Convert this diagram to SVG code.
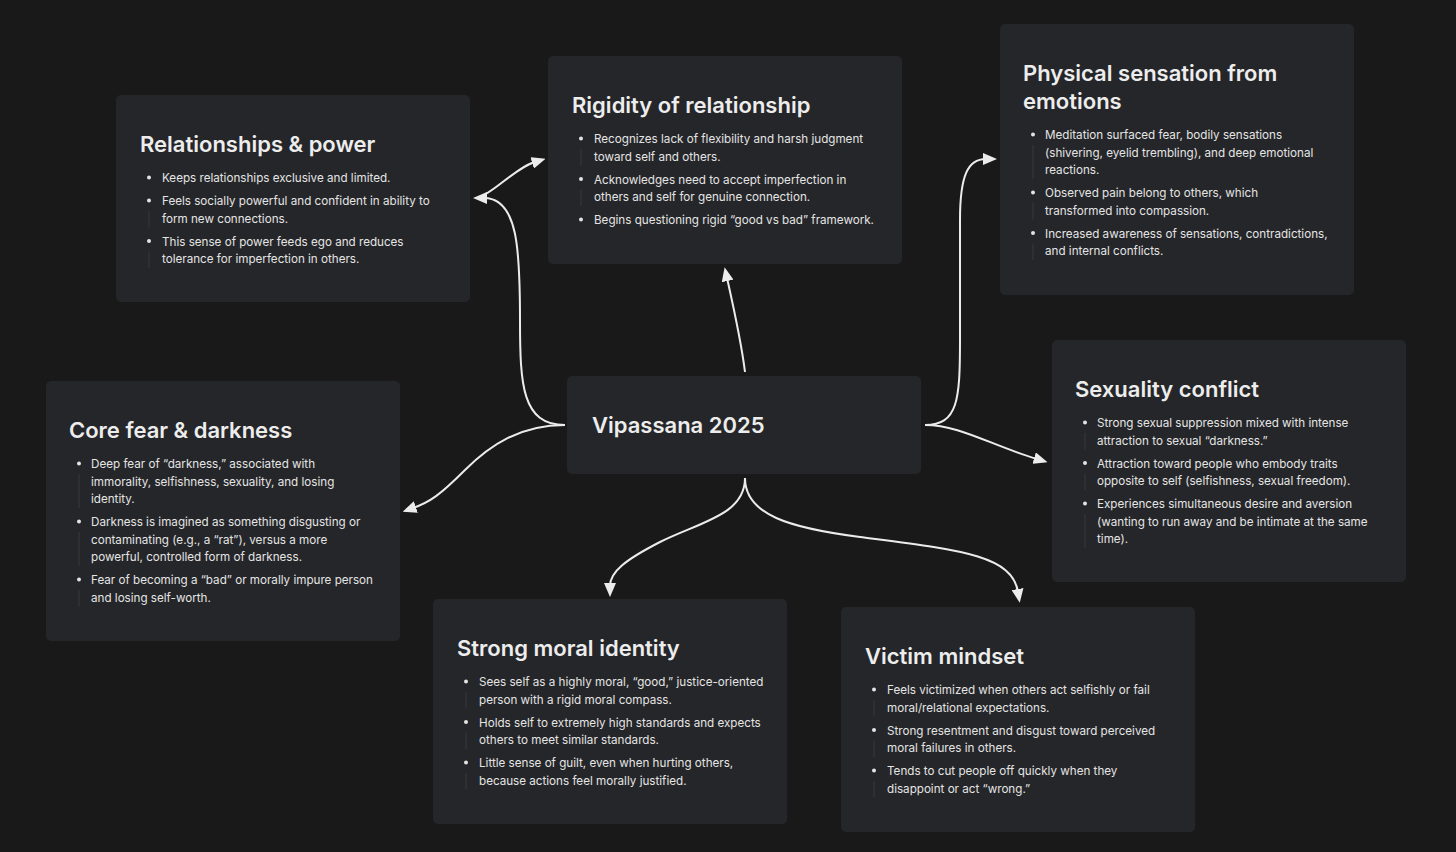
<svg xmlns="http://www.w3.org/2000/svg" width="1456" height="852" viewBox="0 0 1456 852">
<style>
.bg{fill:#19191a}
.box{fill:#252629}
.title{font-family:Inter,"Liberation Sans",sans-serif;font-size:22px;font-weight:600;fill:#ededed}
.body{font-family:Inter,"Liberation Sans",sans-serif;font-size:11.65px;fill:#e4e4e4}
.dot{fill:#e4e4e4}
.guide{stroke:#38393d;stroke-width:1}
.edge{fill:none;stroke:#ececec;stroke-width:2}
</style>
<defs>
<marker id="ah" viewBox="0 0 14 12" markerWidth="14" markerHeight="12" refX="3" refY="6" markerUnits="userSpaceOnUse" orient="auto">
<path d="M0,0 L14,6 L0,12 z" fill="#ececec"/>
</marker>
</defs>
<rect class="bg" x="0" y="0" width="1456" height="852"/>

<g id="connectors">
<path class="edge" marker-end="url(#ah)" d="M745,372 C741,340 733,305 727,278"/>
<path class="edge" marker-end="url(#ah)" d="M565,425 C522,425 520,385 520,320 C520,250 518,198 484,198"/>
<path class="edge" marker-end="url(#ah)" d="M478,198 C495,192 515,168 535,162"/>
<path class="edge" marker-end="url(#ah)" d="M925,425 C958,425 960,400 960,340 L960,220 C960,175 968,159 986,159"/>
<path class="edge" marker-end="url(#ah)" d="M925,425 C960,425 990,445 1037,459"/>
<path class="edge" marker-end="url(#ah)" d="M745,478 C745,515 700,522 660,542 C625,560 610,572 610,586"/>
<path class="edge" marker-end="url(#ah)" d="M745,478 C745,515 790,528 860,537 C960,550 1012,555 1018,592"/>
<path class="edge" marker-end="url(#ah)" d="M565,425 C520,425 490,445 465,470 C440,495 430,502 413,508"/>
</g>

<g id="relationships-power" transform="translate(116,95)">
<rect class="box" x="0" y="0" width="354" height="207" rx="5"/>
<text class="title" x="24" y="57">Relationships &amp; power</text>
<circle class="dot" cx="33" cy="82.5" r="2"/>
<text class="body" x="46" y="87">Keeps relationships exclusive and limited.</text>
<circle class="dot" cx="33" cy="105.5" r="2"/>
<line class="guide" x1="33" y1="116" x2="33" y2="132.5"/>
<text class="body" x="46" y="110">Feels socially powerful and confident in ability to</text>
<text class="body" x="46" y="127.5">form new connections.</text>
<circle class="dot" cx="33" cy="146" r="2"/>
<line class="guide" x1="33" y1="156.5" x2="33" y2="173"/>
<text class="body" x="46" y="150.5">This sense of power feeds ego and reduces</text>
<text class="body" x="46" y="168">tolerance for imperfection in others.</text>
</g>

<g id="rigidity-of-relationship" transform="translate(548,56)">
<rect class="box" x="0" y="0" width="354" height="208" rx="5"/>
<text class="title" x="24" y="57">Rigidity of relationship</text>
<circle class="dot" cx="33" cy="82.5" r="2"/>
<line class="guide" x1="33" y1="93" x2="33" y2="109.5"/>
<text class="body" x="46" y="87">Recognizes lack of flexibility and harsh judgment</text>
<text class="body" x="46" y="104.5">toward self and others.</text>
<circle class="dot" cx="33" cy="123" r="2"/>
<line class="guide" x1="33" y1="133.5" x2="33" y2="150"/>
<text class="body" x="46" y="127.5">Acknowledges need to accept imperfection in</text>
<text class="body" x="46" y="145">others and self for genuine connection.</text>
<circle class="dot" cx="33" cy="163.5" r="2"/>
<text class="body" x="46" y="168">Begins questioning rigid “good vs bad” framework.</text>
</g>

<g id="physical-sensation" transform="translate(1000,24)">
<rect class="box" x="0" y="0" width="354" height="271" rx="5"/>
<text class="title" x="23" y="57">Physical sensation from</text>
<text class="title" x="23" y="85">emotions</text>
<circle class="dot" cx="33" cy="110.5" r="2"/>
<line class="guide" x1="33" y1="121" x2="33" y2="155"/>
<text class="body" x="45" y="115">Meditation surfaced fear, bodily sensations</text>
<text class="body" x="45" y="132.5">(shivering, eyelid trembling), and deep emotional</text>
<text class="body" x="45" y="150">reactions.</text>
<circle class="dot" cx="33" cy="168.5" r="2"/>
<line class="guide" x1="33" y1="179" x2="33" y2="195.5"/>
<text class="body" x="45" y="173">Observed pain belong to others, which</text>
<text class="body" x="45" y="190.5">transformed into compassion.</text>
<circle class="dot" cx="33" cy="209" r="2"/>
<line class="guide" x1="33" y1="219.5" x2="33" y2="236"/>
<text class="body" x="45" y="213.5">Increased awareness of sensations, contradictions,</text>
<text class="body" x="45" y="231">and internal conflicts.</text>
</g>

<g id="sexuality-conflict" transform="translate(1052,340)">
<rect class="box" x="0" y="0" width="354" height="242" rx="5"/>
<text class="title" x="23" y="57">Sexuality conflict</text>
<circle class="dot" cx="33" cy="82.5" r="2"/>
<line class="guide" x1="33" y1="93" x2="33" y2="109.5"/>
<text class="body" x="45" y="87">Strong sexual suppression mixed with intense</text>
<text class="body" x="45" y="104.5">attraction to sexual “darkness.”</text>
<circle class="dot" cx="33" cy="123" r="2"/>
<line class="guide" x1="33" y1="133.5" x2="33" y2="150"/>
<text class="body" x="45" y="127.5">Attraction toward people who embody traits</text>
<text class="body" x="45" y="145">opposite to self (selfishness, sexual freedom).</text>
<circle class="dot" cx="33" cy="163.5" r="2"/>
<line class="guide" x1="33" y1="174" x2="33" y2="208"/>
<text class="body" x="45" y="168">Experiences simultaneous desire and aversion</text>
<text class="body" x="45" y="185.5">(wanting to run away and be intimate at the same</text>
<text class="body" x="45" y="203">time).</text>
</g>

<g id="core-fear-darkness" transform="translate(46,381)">
<rect class="box" x="0" y="0" width="354" height="260" rx="5"/>
<text class="title" x="23" y="57">Core fear &amp; darkness</text>
<circle class="dot" cx="33" cy="82.5" r="2"/>
<line class="guide" x1="33" y1="93" x2="33" y2="127"/>
<text class="body" x="45" y="87">Deep fear of “darkness,” associated with</text>
<text class="body" x="45" y="104.5">immorality, selfishness, sexuality, and losing</text>
<text class="body" x="45" y="122">identity.</text>
<circle class="dot" cx="33" cy="140.5" r="2"/>
<line class="guide" x1="33" y1="151" x2="33" y2="185"/>
<text class="body" x="45" y="145">Darkness is imagined as something disgusting or</text>
<text class="body" x="45" y="162.5">contaminating (e.g., a “rat”), versus a more</text>
<text class="body" x="45" y="180">powerful, controlled form of darkness.</text>
<circle class="dot" cx="33" cy="198.5" r="2"/>
<line class="guide" x1="33" y1="209" x2="33" y2="225.5"/>
<text class="body" x="45" y="203">Fear of becoming a “bad” or morally impure person</text>
<text class="body" x="45" y="220.5">and losing self-worth.</text>
</g>

<g id="vipassana-2025" transform="translate(567,376)">
<rect class="box" x="0" y="0" width="354" height="98" rx="5"/>
<text class="title" x="25" y="57">Vipassana 2025</text>
</g>

<g id="strong-moral-identity" transform="translate(433,599)">
<rect class="box" x="0" y="0" width="354" height="225" rx="5"/>
<text class="title" x="24" y="57">Strong moral identity</text>
<circle class="dot" cx="33" cy="82.5" r="2"/>
<line class="guide" x1="33" y1="93" x2="33" y2="109.5"/>
<text class="body" x="46" y="87">Sees self as a highly moral, “good,” justice-oriented</text>
<text class="body" x="46" y="104.5">person with a rigid moral compass.</text>
<circle class="dot" cx="33" cy="123" r="2"/>
<line class="guide" x1="33" y1="133.5" x2="33" y2="150"/>
<text class="body" x="46" y="127.5">Holds self to extremely high standards and expects</text>
<text class="body" x="46" y="145">others to meet similar standards.</text>
<circle class="dot" cx="33" cy="163.5" r="2"/>
<line class="guide" x1="33" y1="174" x2="33" y2="190.5"/>
<text class="body" x="46" y="168">Little sense of guilt, even when hurting others,</text>
<text class="body" x="46" y="185.5">because actions feel morally justified.</text>
</g>

<g id="victim-mindset" transform="translate(841,607)">
<rect class="box" x="0" y="0" width="354" height="225" rx="5"/>
<text class="title" x="24" y="57">Victim mindset</text>
<circle class="dot" cx="33" cy="82.5" r="2"/>
<line class="guide" x1="33" y1="93" x2="33" y2="109.5"/>
<text class="body" x="46" y="87">Feels victimized when others act selfishly or fail</text>
<text class="body" x="46" y="104.5">moral/relational expectations.</text>
<circle class="dot" cx="33" cy="123" r="2"/>
<line class="guide" x1="33" y1="133.5" x2="33" y2="150"/>
<text class="body" x="46" y="127.5">Strong resentment and disgust toward perceived</text>
<text class="body" x="46" y="145">moral failures in others.</text>
<circle class="dot" cx="33" cy="163.5" r="2"/>
<line class="guide" x1="33" y1="174" x2="33" y2="190.5"/>
<text class="body" x="46" y="168">Tends to cut people off quickly when they</text>
<text class="body" x="46" y="185.5">disappoint or act “wrong.”</text>
</g>
</svg>
